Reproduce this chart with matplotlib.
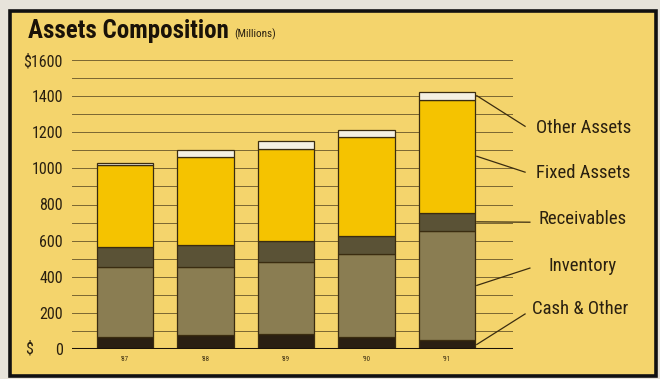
import matplotlib
matplotlib.use("Agg")
import matplotlib.pyplot as plt
import numpy as np
from matplotlib import font_manager
from matplotlib.patches import Rectangle

# pick a narrow sans if we have one
names = {f.name for f in font_manager.fontManager.ttflist}
FONT, STRETCH = "DejaVu Sans", "condensed"
for cand in ["Liberation Sans Narrow", "Roboto Condensed", "Open Sans Condensed"]:
    if cand in names:
        FONT, STRETCH = cand, "normal"
        break
TXT = dict(family=FONT, stretch=STRETCH)

# data (millions of dollars)
years = ["'87", "'88", "'89", "'90", "'91"]
cash = [68, 79, 83, 65, 50]
inventory = [384, 374, 396, 460, 604]
receivables = [110, 122, 118, 100, 100]
fixed_assets = [458, 490, 513, 550, 626]
other_assets = [8, 35, 40, 40, 45]

series = [cash, inventory, receivables, fixed_assets, other_assets]
labels = ["Cash & Other", "Inventory", "Receivables", "Fixed Assets", "Other Assets"]
colors = ["#2a1f12", "#8a7d52", "#5a5236", "#f5c300", "#f4f0e2"]

# label positions to the right of the last bar (x, y in data units)
label_pos = [(5.06, 221), (5.26, 459), (5.14, 719), (5.1, 973), (5.1, 1222)]
line_end = [(4.97, 194), (5.03, 448), (5.03, 702), (4.97, 979), (4.97, 1233)]

fig = plt.figure(figsize=(6.6, 3.79), dpi=100)
fig.patch.set_facecolor("#e7e3da")
# yellow panel with heavy black frame
fig.patches.append(Rectangle((10 / 660, 3 / 379), 646 / 660, 365 / 379, transform=fig.transFigure,
                             facecolor="#f4d46c", edgecolor="#111111", linewidth=2.6, zorder=-5))

ax = fig.add_axes([72 / 660, 30 / 379, 441 / 660, 289 / 379])
ax.set_facecolor("none")

x = np.arange(len(years))
bottom = np.zeros(len(years))
for vals, col in zip(series, colors):
    ax.bar(x, vals, 0.7, bottom=bottom, color=col, edgecolor="#3a2c10", linewidth=0.9, zorder=3)
    bottom += np.array(vals)

ax.set_xlim(-0.66, 4.82)
ax.set_ylim(0, 1600)
for yv in range(100, 1601, 100):
    ax.axhline(yv, color="#7a6632", linewidth=0.7, zorder=1)
ax.axhline(0, color="#1a1208", linewidth=2.2, zorder=4)

for s in ax.spines.values():
    s.set_visible(False)
ax.tick_params(length=0)
ax.set_yticks(range(0, 1601, 200))
ax.set_yticklabels(["0", "200", "400", "600", "800", "1000", "1200", "1400", "$1600"],
                   fontsize=11.5, color="#2a2010", **TXT)
ax.tick_params(axis="y", pad=6.5)
ax.set_xticks(x)
ax.set_xticklabels(years, fontsize=5, color="#3a2c10", **TXT)
ax.tick_params(axis="x", pad=5)
fig.text(25 / 660, 1 - 349 / 379, "$", fontsize=11.5, color="#2a2010", va="center", **TXT)

# leader lines from the middle of each segment of the last bar
last = len(years) - 1
base = 0
for vals, lab, (tx, ty), (ex, ey) in zip(series, labels, label_pos, line_end):
    mid = base + vals[last] / 2
    base += vals[last]
    ax.plot([last + 0.37, ex], [mid, ey], color="#3a2c10", linewidth=0.9, clip_on=False, zorder=5)
    ax.text(tx, ty, lab, fontsize=13.5, color="#2a2010", va="center", ha="left", clip_on=False, **TXT)

fig.text(28 / 660, 1 - 31 / 379, "Assets Composition", fontsize=18, weight="bold",
         color="#1a1208", va="center", **TXT)
fig.text(234 / 660, 1 - 34 / 379, "(Millions)", fontsize=8, color="#2a2010", va="center", **TXT)

fig.savefig("out.png", dpi=100, facecolor=fig.get_facecolor())
